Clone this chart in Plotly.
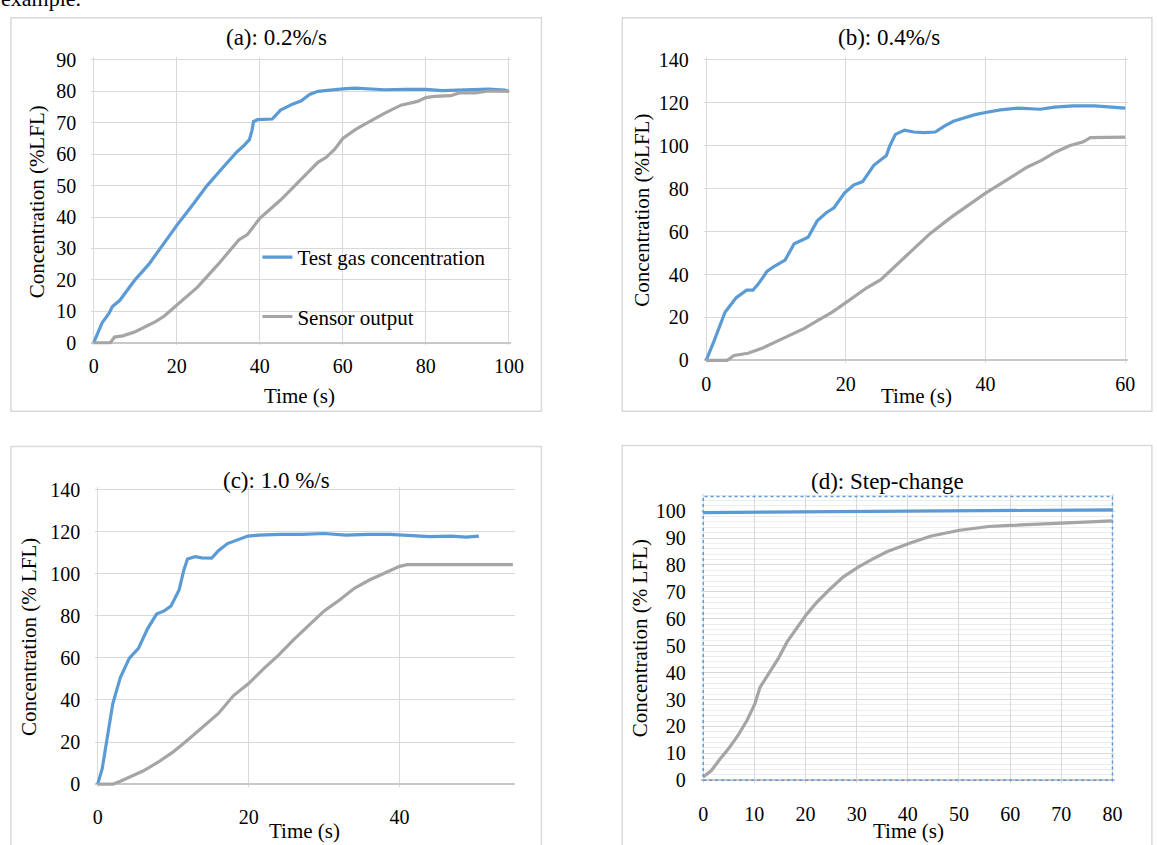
import plotly.graph_objects as go

W, H = 1157, 845
FONT = "Liberation Serif"
BLUE = "#5B9BD5"
GRAY = "#A5A5A5"
GRID = "#D9D9D9"

# ---------------- data ----------------
a_t_gas = [0, 0.6, 2, 3.7, 4.5, 6.3, 9.8, 13.3, 16.5, 20.1, 23.8, 27.3, 30.8, 34.3, 36, 37.5, 38.1,
           38.5, 39.5, 41, 43, 45, 48, 50, 52, 54, 56, 60, 63, 65, 68, 70, 75, 80, 84, 87, 90, 95, 99, 100]
a_gas = [0, 2, 6.3, 9.4, 11.5, 13.5, 19.8, 25, 31, 37.5, 43.8, 50, 55.3, 60.5, 62.5, 64.6, 67.5,
         70.4, 71, 71, 71.2, 74, 76, 77, 79, 80, 80.3, 80.8, 81, 80.9, 80.8, 80.5, 80.6, 80.6, 80.2, 80.3, 80.4, 80.7, 80.4, 80]
a_t_sen = [0, 4, 5, 7, 10, 15, 17, 20, 25, 30, 35, 37, 40, 45, 50, 54, 56, 58, 60, 63, 65, 70, 74, 78,
           80, 82, 86, 88, 92, 95, 100]
a_sen = [0, 0, 1.8, 2.2, 3.5, 6.8, 8.5, 12, 17.7, 25, 32.8, 34.4, 39.6, 45.4, 52, 57.4, 59, 61.5, 65,
         67.8, 69.3, 73, 75.6, 76.8, 78, 78.4, 78.6, 79.5, 79.5, 80.1, 80]

b_t_gas = [0, 1.1, 2.7, 4.3, 5.8, 6.7, 7.4, 8.7, 9.7, 11.3, 12.6, 14.6, 15.9, 17.2, 18.3, 19.8, 21.1,
           22.4, 24, 25.8, 26.3, 27.1, 28.4, 29.7, 31.2, 32.8, 34.1, 35.4, 36.9, 38.5, 40, 42.1, 44.7,
           47.8, 49.9, 52.5, 55.6, 58.2, 60]
b_gas = [0, 8.7, 22.4, 29.2, 32.7, 32.7, 35.3, 41.4, 43.7, 46.7, 54.3, 57.4, 65, 68.8, 71.1, 77.9, 81.7,
         83.3, 90.9, 95.4, 100, 105.3, 107.3, 106.4, 106.1, 106.4, 109.1, 111.4, 112.9, 114.5, 115.5, 116.7,
         117.5, 117, 118, 118.6, 118.6, 117.8, 117.5]
b_t_sen = [0, 3, 4, 6, 8, 10, 12, 14, 16, 18, 20, 22, 23, 25, 28, 30, 32, 35, 38, 40, 43, 46, 48, 50,
           52, 54, 55, 60]
b_sen = [0, 0, 2.3, 3.3, 5.6, 8.7, 11.7, 14.8, 18.6, 22.4, 26.9, 31.5, 33.8, 37.6, 46.7, 52.8, 58.9,
         66.5, 73.4, 77.9, 84, 90.1, 93.2, 97, 100, 101.8, 103.8, 104]

c_t_gas = [0, 0.6, 1.3, 2, 3, 4.2, 5.4, 6.6, 7.8, 8.8, 9.7, 10.8, 11.4, 11.9, 12.9, 13.8, 15.1, 16,
           17.2, 18.4, 19.9, 21.3, 24.2, 27.1, 30, 32.9, 35.8, 38.7, 41.6, 44, 46.9, 48.8, 50.5]
c_gas = [0, 7.3, 22.7, 38.2, 50.6, 59.9, 64.5, 73.8, 80.8, 82.3, 84.6, 92.4, 101.6, 107, 108.1, 107.5,
         107.4, 110.9, 114.3, 115.9, 117.9, 118.3, 118.7, 118.7, 119.1, 118.3, 118.7, 118.7, 118.2, 117.6,
         117.9, 117.4, 117.9]
c_t_sen = [0, 2, 3, 4, 6, 8, 10, 12, 14, 16, 18, 20, 22, 24, 26, 28, 30, 32, 34, 36, 38, 40, 41, 55]
c_sen = [0, 0, 1.4, 2.9, 6.2, 10.4, 15.3, 21.2, 27.4, 33.6, 42.1, 47.8, 54.9, 61.4, 68.8, 75.3, 82.3,
         87.4, 93.1, 97, 100.1, 103.5, 104.3, 104.3]

d_t_gas = [0, 10, 20, 30, 40, 50, 60, 70, 80]
d_gas = [99.5, 99.6, 99.7, 99.8, 100, 100.2, 100.3, 100.4, 100.5]
d_t_sen = [0, 1.6, 3.3, 5.1, 6.9, 8.6, 10.1, 11.1, 12.9, 14.7, 16.4, 18.2, 20, 22.1, 24.6, 27.4, 30.3,
           33.1, 35.9, 40.2, 44.4, 50.1, 55.8, 60, 65.7, 70, 74.2, 80]
d_sen = [1.2, 3.6, 7.9, 12.1, 16.9, 22.4, 28.4, 34.5, 39.9, 45.3, 51.4, 56.2, 61.1, 65.9, 70.7, 75.6,
         79.2, 82.2, 84.9, 88, 90.7, 92.9, 94.3, 94.7, 95.2, 95.5, 95.8, 96.4]

titles = ["(a): 0.2%/s", "(b): 0.4%/s", "(c): 1.0 %/s", "(d): Step-change"]
ytitles = ["Concentration (%LFL)", "Concentration (%LFL)", "Concentration (% LFL)", "Concentration (% LFL)"]
xtitle = "Time (s)"
names = ["Test gas concentration", "Sensor output"]

# ---------------- layout geometry (pixels) ----------------
panels = [
    dict(x=(92, 513), xr=(0, 100), xd=20, y=(341, 52), yr=(0, 90), yd=10, xs=7,
         title=(277, 29), yt=(34, 197), xt=(301, 382), box=(8, 9, 546, 411)),
    dict(x=(713, 1138), xr=(0, 60), xd=20, y=(359, 52), yr=(0, 140), yd=20, xs=7,
         title=(898, 29), yt=(648, 206), xt=(926, 382), box=(628, 9, 1165, 411)),
    dict(x=(96, 517), xr=(0, 55), xd=20, y=(792, 491), yr=(0, 140), yd=20, xs=16,
         title=(277, 482), yt=(27, 642), xt=(306, 827), box=(8, 447, 546, 855)),
    dict(x=(710, 1125), xr=(0, 80), xd=10, y=(788, 498), yr=(0, 105.5), yd=10, xs=17,
         title=(897, 483), yt=(646, 643), xt=(918, 827), box=(628, 446, 1165, 855)),
]
data = [(a_t_gas, a_gas, a_t_sen, a_sen), (b_t_gas, b_gas, b_t_sen, b_sen),
        (c_t_gas, c_gas, c_t_sen, c_sen), (d_t_gas, d_gas, d_t_sen, d_sen)]

PAD = 2.5
fig = go.Figure()
layout = dict(width=W, height=H, margin=dict(l=0, r=0, t=0, b=0), paper_bgcolor="white",
              plot_bgcolor="rgba(0,0,0,0)", showlegend=True)
shapes, annotations = [], []

for i, (p, d) in enumerate(zip(panels, data)):
    n = "" if i == 0 else str(i + 1)
    tg, g, ts, s = d
    fig.add_trace(go.Scatter(x=tg, y=g, mode="lines", name=names[0], legendgroup="g1",
                             showlegend=(i == 0), line=dict(color=BLUE, width=3.2),
                             xaxis="x" + n, yaxis="y" + n))
    fig.add_trace(go.Scatter(x=ts, y=s, mode="lines", name=names[1], legendgroup="g2",
                             showlegend=(i == 0), line=dict(color=GRAY, width=3.2),
                             xaxis="x" + n, yaxis="y" + n))
    x0, x1 = p["x"]; v0, v1 = p["xr"]
    sx = (x1 - x0) / (v1 - v0)
    yb, yt = p["y"]; w0, w1 = p["yr"]
    sy = (yb - yt) / (w1 - w0)
    xa = dict(domain=[(x0 - PAD) / W, (x1 + PAD) / W], range=[v0 - PAD / sx, v1 + PAD / sx],
              tick0=0, dtick=p["xd"], showgrid=True, gridcolor=GRID, gridwidth=1.3,
              zeroline=False, showline=False, ticks="", ticklabelstandoff=p["xs"],
              tickfont=dict(family=FONT, size=20, color="black"),
              anchor="y" + n, fixedrange=True)
    ya = dict(domain=[1 - (yb + PAD) / H, 1 - (yt - PAD) / H], range=[w0 - PAD / sy, w1 + PAD / sy],
              tick0=0, dtick=p["yd"], showgrid=True, gridcolor=GRID, gridwidth=1.3,
              zeroline=True, zerolinecolor="#C8C8C8", zerolinewidth=1.6, showline=False, ticks="",
              ticklabelstandoff=14, tickfont=dict(family=FONT, size=20, color="black"),
              anchor="x" + n, fixedrange=True)
    if i == 3:
        ya["minor"] = dict(tick0=0, dtick=2, showgrid=True, gridcolor="#EDEDED", gridwidth=1)
    layout["xaxis" + n] = xa
    layout["yaxis" + n] = ya
    bx0, by0, bx1, by1 = p["box"]
    shapes.append(dict(type="rect", xref="paper", yref="paper", x0=bx0 / W, x1=bx1 / W,
                       y0=1 - by1 / H, y1=1 - by0 / H, line=dict(color=GRID, width=1.5),
                       fillcolor="rgba(0,0,0,0)", layer="below"))
    annotations.append(dict(text=titles[i], x=p["title"][0] / W, y=1 - p["title"][1] / H,
                            xref="paper", yref="paper", showarrow=False, xanchor="center",
                            yanchor="middle", font=dict(family=FONT, size=23, color="black")))
    annotations.append(dict(text=ytitles[i], x=p["yt"][0] / W, y=1 - p["yt"][1] / H,
                            xref="paper", yref="paper", showarrow=False, textangle=-90,
                            xanchor="center", yanchor="middle",
                            font=dict(family=FONT, size=21, color="black")))
    # x-axis title, anchored by the top edge of its text box
    annotations.append(dict(text=xtitle, x=p["xt"][0] / W, y=1 - p["xt"][1] / H,
                            xref="paper", yref="paper", showarrow=False, xanchor="center",
                            yanchor="top", borderpad=0,
                            font=dict(family=FONT, size=21, color="black")))

# dotted plot-area border in (d)
shapes.append(dict(type="rect", xref="x4", yref="y4", x0=0, x1=80, y0=0, y1=105.5,
                   line=dict(color=BLUE, width=1.5, dash="dot"), fillcolor="rgba(0,0,0,0)",
                   layer="above"))

# text from the page above, cut off by the top edge (as in the reference)
annotations.append(dict(text="example.", x=-4 / W, y=1 - 4 / H, xref="paper", yref="paper",
                        showarrow=False, xanchor="left", yanchor="bottom",
                        font=dict(family=FONT, size=22, color="black")))

layout["shapes"] = shapes
layout["annotations"] = annotations
layout["legend"] = dict(x=258 / W, y=1 - 233 / H, xanchor="left", yanchor="top",
                        bgcolor="rgba(0,0,0,0)", tracegroupgap=29,
                        font=dict(family=FONT, size=21, color="black"))
fig.update_layout(**layout)
fig.write_html("out.html")
